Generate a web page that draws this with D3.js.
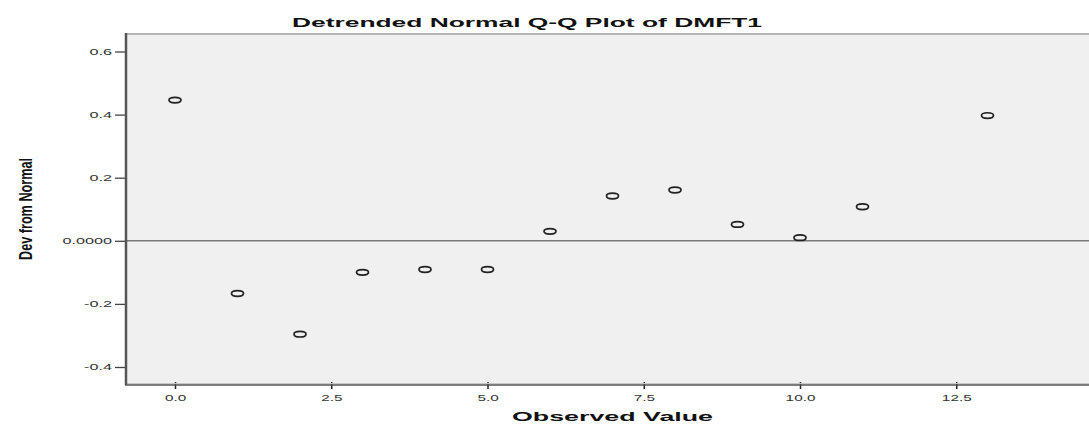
<!DOCTYPE html>
<html>
<head>
<meta charset="utf-8">
<script src="https://cdn.jsdelivr.net/npm/d3@7"></script>
<style>
  body { margin: 0; background: #fff; }
  svg { display: block; font-family: "Liberation Sans", Arial, sans-serif; }
</style>
</head>
<body>
<svg width="1089" height="425"></svg>
<script>
// observed values and their deviation from normal
var observed = [0, 1, 2, 3, 4, 5, 6, 7, 8, 9, 10, 11, 13];
var deviation = [0.446, -0.167, -0.296, -0.100, -0.091, -0.091, 0.030, 0.142, 0.161, 0.052, 0.010, 0.108, 0.397];

var xTicks = [0, 2.5, 5, 7.5, 10, 12.5];
var xTickLabels = ["0.0", "2.5", "5.0", "7.5", "10.0", "12.5"];
var yTicks = [0.6, 0.4, 0.2, 0, -0.2, -0.4];
var yTickLabels = ["0.6", "0.4", "0.2", "0.0000", "-0.2", "-0.4"];

var svg = d3.select("svg"),
    width = +svg.attr("width"),
    height = +svg.attr("height");

// plot frame (window.top is reserved, so use other names)
var plotLeft = 126, plotTop = 34, plotBottom = 385, plotRight = width;

var x = d3.scaleLinear().domain([0, 13]).range([175, 987.5]);
var y = d3.scaleLinear().domain([-0.4, 0.6]).range([367, 51.5]);

// stretch text horizontally like the original
function stretch(sel, k) {
  sel.each(function() {
    var len = this.getComputedTextLength();
    d3.select(this).attr("textLength", len * k).attr("lengthAdjust", "spacingAndGlyphs");
  });
}

svg.append("rect")
    .attr("x", plotLeft).attr("y", plotTop)
    .attr("width", plotRight - plotLeft).attr("height", plotBottom - plotTop)
    .attr("fill", "#f0f0f0");

// top frame line
svg.append("line")
    .attr("x1", plotLeft).attr("x2", plotRight)
    .attr("y1", plotTop).attr("y2", plotTop)
    .attr("stroke", "#b4b4b4").attr("stroke-width", 2);

// reference line at zero
svg.append("line")
    .attr("x1", plotLeft).attr("x2", plotRight)
    .attr("y1", y(0)).attr("y2", y(0))
    .attr("stroke", "#7a7a7a").attr("stroke-width", 1.5);

// x axis
var xAxis = svg.append("g")
    .attr("transform", "translate(0," + plotBottom + ")")
    .call(d3.axisBottom(x)
        .tickValues(xTicks)
        .tickSize(4)
        .tickPadding(6)
        .tickFormat(function(d, i) { return xTickLabels[i]; }));
xAxis.select(".domain").remove();
xAxis.selectAll(".tick line").attr("y1", -3).attr("stroke", "#222").attr("stroke-width", 1.5);
xAxis.selectAll(".tick text")
    .attr("font-size", 9)
    .attr("font-family", "Liberation Sans, Arial, sans-serif")
    .attr("fill", "#333")
    .call(stretch, 1.7);

svg.append("line")
    .attr("x1", plotLeft).attr("x2", plotRight)
    .attr("y1", plotBottom - 1.5).attr("y2", plotBottom - 1.5)
    .attr("stroke", "#c8c8c8").attr("stroke-width", 1);
svg.append("line")
    .attr("x1", plotLeft - 1).attr("x2", plotRight)
    .attr("y1", plotBottom).attr("y2", plotBottom)
    .attr("stroke", "#555").attr("stroke-width", 1.5);

// y axis
var yAxis = svg.append("g")
    .attr("transform", "translate(" + plotLeft + ",0)")
    .call(d3.axisLeft(y)
        .tickValues(yTicks)
        .tickSize(11)
        .tickPadding(3)
        .tickFormat(function(d, i) { return yTickLabels[i]; }));
yAxis.select(".domain").remove();
yAxis.selectAll(".tick line").attr("stroke", "#444").attr("stroke-width", 1.3);
yAxis.selectAll(".tick text")
    .attr("font-size", 9)
    .attr("font-family", "Liberation Sans, Arial, sans-serif")
    .attr("fill", "#333")
    .call(stretch, 1.8);

svg.append("line")
    .attr("x1", plotLeft).attr("x2", plotLeft)
    .attr("y1", plotTop - 1).attr("y2", plotBottom)
    .attr("stroke", "#555").attr("stroke-width", 2.5);

// points
svg.append("g")
  .selectAll("ellipse")
  .data(observed)
  .enter()
  .append("ellipse")
    .attr("cx", function(d) { return x(d); })
    .attr("cy", function(d, i) { return y(deviation[i]); })
    .attr("rx", 6)
    .attr("ry", 2.8)
    .attr("fill", "none")
    .attr("stroke", "#222")
    .attr("stroke-width", 1.7);

// titles
svg.append("text")
    .attr("x", 292).attr("y", 27)
    .attr("font-size", 13)
    .attr("font-weight", "bold")
    .attr("fill", "#111")
    .attr("textLength", 470)
    .attr("lengthAdjust", "spacingAndGlyphs")
    .text("Detrended Normal Q-Q Plot of DMFT1");

svg.append("text")
    .attr("x", 512).attr("y", 421)
    .attr("font-size", 13)
    .attr("font-weight", "bold")
    .attr("fill", "#111")
    .attr("textLength", 201)
    .attr("lengthAdjust", "spacingAndGlyphs")
    .text("Observed Value");

svg.append("text")
    .attr("transform", "translate(32,260) rotate(-90)")
    .attr("font-size", 19)
    .attr("font-weight", "bold")
    .attr("fill", "#111")
    .attr("textLength", 102)
    .attr("lengthAdjust", "spacingAndGlyphs")
    .text("Dev from Normal");
</script>
</body>
</html>
